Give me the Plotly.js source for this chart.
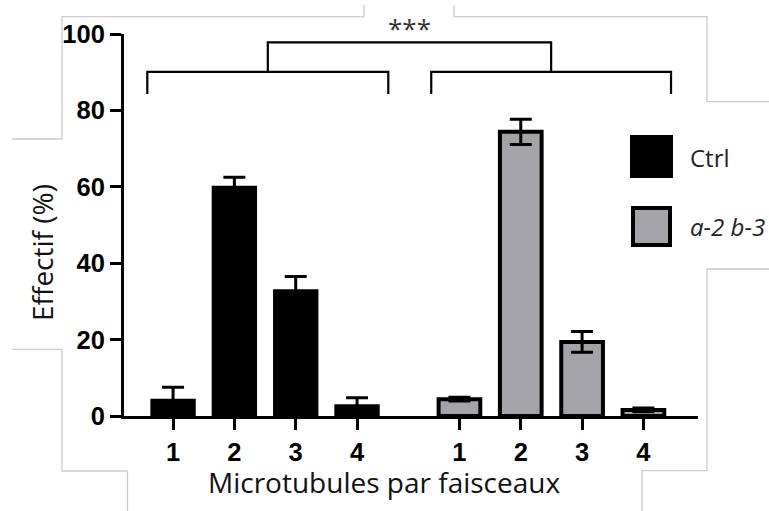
<!DOCTYPE html>
<html>
<head>
<meta charset="utf-8">
<script src="https://cdn.plot.ly/plotly-3.0.1.min.js"></script>
<style>html,body{margin:0;padding:0;background:#fff;}#chart{width:769px;height:511px;}</style>
</head>
<body>
<div id="chart"></div>
<script>
// ---- data ----
var categories = ['1', '2', '3', '4'];
var seriesNames = ['Ctrl', 'a-2 b-3'];
var ctrlValues = [4.5, 60.3, 33.2, 3.1];
var ctrlErrors = [3.0, 2.2, 3.3, 1.7];
var mutValues = [4.4, 74.4, 19.4, 1.6];
var mutErrors = [0.5, 3.3, 2.7, 0.5];
var yTicks = [0, 20, 40, 60, 80, 100];
var xTitle = 'Microtubules par faisceaux';
var yTitle = 'Effectif (%)';
var significance = '***';

// ---- layout helpers ----
var groupOffset = 4.67;
var ctrlX = categories.map(function (c, i) { return i + 1; });
var mutX = categories.map(function (c, i) { return i + 1 + groupOffset; });
var barW = 0.68;
var greyFill = '#a4a4a8';

var traces = [
  {
    type: 'bar', name: seriesNames[0], x: ctrlX, y: ctrlValues, width: 0.74,
    marker: {color: '#000000', line: {color: '#000000', width: 0}},
    error_y: {type: 'data', array: ctrlErrors, visible: true, color: '#000000', thickness: 3, width: 11},
    showlegend: false, hoverinfo: 'skip'
  },
  {
    type: 'bar', name: seriesNames[1], x: mutX, y: mutValues, width: barW,
    marker: {color: greyFill, line: {color: '#000000', width: 4}},
    error_y: {type: 'data', array: mutErrors, visible: true, color: '#000000', thickness: 3, width: 11},
    showlegend: false, hoverinfo: 'skip'
  }
];

// plot-area geometry (px) for decorative outlines
var L = 124, R = 698, T = 34, B = 416;
function px(x) { return (x - L) / (R - L); }
function py(y) { return (B - y) / (B - T); }
function poly(pts, color, w) {
  var d = pts.map(function (p, i) { return (i ? 'L' : 'M') + px(p[0]) + ',' + py(p[1]); }).join(' ');
  return {type: 'path', xref: 'paper', yref: 'paper', path: d, line: {color: color, width: w}, layer: 'below'};
}
var frameColor = '#cccccc';
var shapes = [
  poly([[12, 139], [62, 139], [62, 16.7], [364, 16.7], [364, 5]], frameColor, 1.3),
  poly([[454, 5], [454, 16.7], [707, 16.7], [707, 101.7], [769, 101.7]], frameColor, 1.3),
  poly([[12, 349.3], [62, 349.3], [62, 471], [127.5, 471], [127.5, 511]], frameColor, 1.3),
  poly([[769, 269], [707, 269], [707, 470.7], [642, 470.7], [642, 511]], frameColor, 1.3)
];

// significance brackets (data coordinates)
var lb = [ctrlX[0] - 0.42, ctrlX[3] + 0.51];
var rb = [mutX[0] - 0.46, mutX[3] + 0.45];
var bracketY = 90.1, bracketFoot = 84.3, topY = 97.8;
var lm = (lb[0] + lb[1]) / 2, rm = (rb[0] + rb[1]) / 2;
function dpath(pts) {
  return {type: 'path', xref: 'x', yref: 'y',
    path: pts.map(function (p, i) { return (i ? 'L' : 'M') + p[0] + ',' + p[1]; }).join(' '),
    line: {color: '#000000', width: 2.2}};
}
shapes.push(dpath([[lb[0], bracketFoot], [lb[0], bracketY], [lb[1], bracketY], [lb[1], bracketFoot]]));
shapes.push(dpath([[rb[0], bracketFoot], [rb[0], bracketY], [rb[1], bracketY], [rb[1], bracketFoot]]));
shapes.push(dpath([[lm, bracketY], [lm, topY], [rm, topY], [rm, bracketY]]));

// custom legend swatches
shapes.push({type: 'rect', xref: 'paper', yref: 'paper', x0: px(631), x1: px(672), y0: py(177), y1: py(136),
  fillcolor: '#000000', line: {color: '#000000', width: 2}});
shapes.push({type: 'rect', xref: 'paper', yref: 'paper', x0: px(633), x1: px(670), y0: py(245), y1: py(208),
  fillcolor: greyFill, line: {color: '#000000', width: 4}});

var txtFont = 'Open Sans, Noto Sans, sans-serif';
var annotations = [
  {xref: 'x', yref: 'y', x: (lm + rm) / 2, y: topY, yanchor: 'bottom', yshift: -6, text: significance,
    showarrow: false, font: {family: txtFont, size: 26, color: '#333333'}},
  {xref: 'paper', yref: 'paper', x: px(688), y: py(157), xanchor: 'left', yanchor: 'middle',
    text: seriesNames[0], showarrow: false, font: {family: txtFont, size: 24, color: '#222222'}},
  {xref: 'paper', yref: 'paper', x: px(688), y: py(227), xanchor: 'left', yanchor: 'middle',
    text: '<i>' + seriesNames[1] + '</i>', showarrow: false, font: {family: txtFont, size: 24, color: '#222222'}},
  {xref: 'paper', yref: 'paper', x: px(384), y: py(482), xanchor: 'center', yanchor: 'middle',
    text: xTitle, showarrow: false, font: {family: txtFont, size: 28, color: '#111111'}},
  {xref: 'paper', yref: 'paper', x: px(42), y: py(253), xanchor: 'center', yanchor: 'middle', textangle: -90,
    text: yTitle, showarrow: false, font: {family: txtFont, size: 28, color: '#111111'}}
];

var tickFont = {family: 'Liberation Sans, Arial, sans-serif', size: 25.5, color: '#000000', weight: 'bold'};
var layout = {
  width: 769, height: 511,
  margin: {l: L, r: 769 - R, t: T, b: 511 - B, pad: 0},
  paper_bgcolor: '#ffffff', plot_bgcolor: 'rgba(0,0,0,0)',
  showlegend: false,
  xaxis: {
    range: [0.2, 9.56], tickvals: ctrlX.concat(mutX), ticktext: categories.concat(categories),
    showline: true, linewidth: 3, linecolor: '#000000', ticks: 'outside', ticklen: 11, tickwidth: 3,
    tickcolor: '#000000', showgrid: false, zeroline: false, tickfont: tickFont
  },
  yaxis: {
    range: [0, 100], tickvals: yTicks, showline: true, linewidth: 3, linecolor: '#000000',
    ticks: 'outside', ticklen: 11, tickwidth: 3, tickcolor: '#000000', showgrid: false, zeroline: false,
    tickfont: tickFont
  },
  shapes: shapes,
  annotations: annotations
};

Plotly.newPlot('chart', traces, layout, {displayModeBar: false, staticPlot: true});
</script>
</body>
</html>
